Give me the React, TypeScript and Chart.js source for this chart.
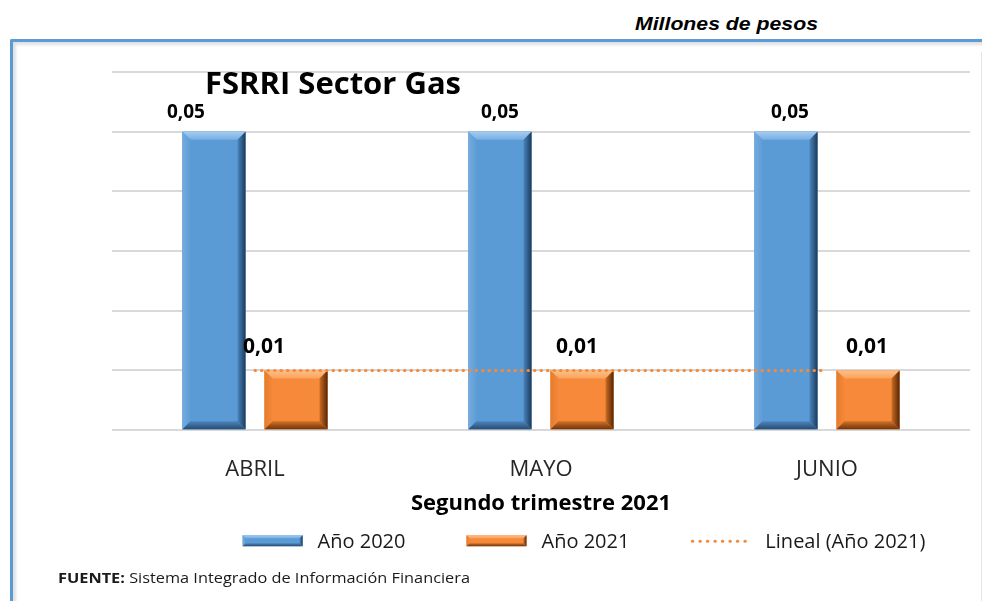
import React, { useEffect, useRef } from "react";
import { Chart, registerables } from "chart.js";

Chart.register(...registerables);

// ---- data ----
const categories = ["ABRIL", "MAYO", "JUNIO"];
const values2020 = [0.05, 0.05, 0.05];
const values2021 = [0.01, 0.01, 0.01];
const trend2021 = [0.01, 0.01, 0.01];
const seriesNames = ["Año 2020", "Año 2021", "Lineal (Año 2021)"];
const yMin = 0;
const yMax = 0.06;
const yStep = 0.01;
const chartTitle = "FSRRI Sector Gas";
const xTitle = "Segundo trimestre 2021";
const unitsText = "Millones de pesos";
const sourceLabel = "FUENTE:";
const sourceText = " Sistema Integrado de Información Financiera";

const FONT = "'Open Sans', 'Noto Sans', sans-serif";

const palettes: any = {
  blue: {
    main: "#5B9BD5",
    top: ["#A3CCF2", "#78AEE2"],
    left: ["#75ABDE", "#5E9DD6"],
    right: ["#1C3A58", "#4A86C0"],
    bottom: ["#284C70", "#4C86BE"],
  },
  orange: {
    main: "#F68A3A",
    top: ["#FDC088", "#F9A25C"],
    left: ["#E47D2E", "#F48839"],
    right: ["#552707", "#CC6C22"],
    bottom: ["#6E350E", "#D47226"],
  },
};

function fmt(v: number) {
  return v.toFixed(2).replace(".", ",");
}

function drawBevelRect(ctx: CanvasRenderingContext2D, l: number, t: number, r: number, b: number, s: number, p: any) {
  ctx.save();
  ctx.fillStyle = p.main;
  ctx.fillRect(l, t, r - l, b - t);
  const face = (pts: number[][], g0: number[], g1: number[], cols: string[]) => {
    const g = ctx.createLinearGradient(g0[0], g0[1], g1[0], g1[1]);
    g.addColorStop(0, cols[0]);
    g.addColorStop(1, cols[1]);
    ctx.beginPath();
    ctx.moveTo(pts[0][0], pts[0][1]);
    for (let i = 1; i < pts.length; i++) ctx.lineTo(pts[i][0], pts[i][1]);
    ctx.closePath();
    ctx.fillStyle = g;
    ctx.fill();
  };
  face([[l, t], [r, t], [r - s, t + s], [l + s, t + s]], [0, t], [0, t + s], p.top);
  face([[l, t], [l + s, t + s], [l + s, b - s], [l, b]], [l, 0], [l + s, 0], p.left);
  face([[r, t], [r, b], [r - s, b - s], [r - s, t + s]], [r, 0], [r - s, 0], p.right);
  face([[l, b], [l + s, b - s], [r - s, b - s], [r, b]], [0, b], [0, b - s], p.bottom);
  ctx.restore();
}

const bevelPlugin = {
  id: "bevelBars",
  afterDatasetDraw(chart: any, args: any) {
    const ds = chart.data.datasets[args.index];
    if (!ds.bevel) return;
    const ctx = chart.ctx;
    const p = palettes[ds.bevel];
    args.meta.data.forEach((bar: any) => {
      const { x, y, base, width } = bar.getProps(["x", "y", "base", "width"], true);
      const l = x - width / 2;
      const r = x + width / 2;
      const s = Math.min(8, width / 4, (base - y) / 3);
      drawBevelRect(ctx, l, y, r, base, s, p);
    });
  },
};

const labelPlugin = {
  id: "valueLabels",
  afterDatasetsDraw(chart: any, _a: any, opts: any) {
    const ctx = chart.ctx;
    ctx.save();
    ctx.textAlign = "center";
    ctx.textBaseline = "alphabetic";
    ctx.fillStyle = "#000";
    chart.data.datasets.forEach((ds: any, di: number) => {
      if (!ds.bevel) return;
      const meta = chart.getDatasetMeta(di);
      const cfg = opts.sets[di];
      ctx.font = `bold ${cfg.size}px ${FONT}`;
      meta.data.forEach((bar: any, i: number) => {
        const v = ds.data[i];
        ctx.fillText(fmt(v), bar.x + cfg.nudge[i], bar.y - cfg.gap);
      });
    });
    // chart title
    const ca = chart.chartArea;
    ctx.textAlign = "left";
    ctx.font = `bold 31px ${FONT}`;
    ctx.fillText(chartTitle, ca.left + 93, ca.top + 22);
    ctx.restore();
  },
};

const legendPlugin = {
  id: "customLegend",
  afterDraw(chart: any) {
    const ctx = chart.ctx;
    const ca = chart.chartArea;
    ctx.save();
    ctx.font = `20px ${FONT}`;
    ctx.textBaseline = "middle";
    ctx.textAlign = "left";
    const iconW = 60;
    const textGap = 15;
    const itemGap = 61;
    const ds = chart.data.datasets;
    const widths = ds.map((d: any) => iconW + textGap + ctx.measureText(d.label).width);
    const total = widths.reduce((a: number, b: number) => a + b, 0) + itemGap * (ds.length - 1);
    const cx = (ca.left + ca.right) / 2 + 43;
    const y = ca.bottom + 111;
    let x = cx - total / 2;
    ds.forEach((d: any, i: number) => {
      if (d.bevel) {
        drawBevelRect(ctx, x, y - 6, x + iconW, y + 5, 3, palettes[d.bevel]);
      } else {
        ctx.save();
        ctx.strokeStyle = d.borderColor;
        ctx.lineWidth = 3;
        ctx.lineCap = "round";
        ctx.setLineDash([0.5, 7]);
        ctx.beginPath();
        ctx.moveTo(x + 2, y);
        ctx.lineTo(x + iconW, y);
        ctx.stroke();
        ctx.restore();
      }
      ctx.fillStyle = "#1a1a1a";
      ctx.fillText(d.label, x + iconW + textGap, y + 1);
      x += widths[i] + itemGap;
    });
    ctx.restore();
  },
};

export default function App() {
  const ref = useRef<HTMLCanvasElement>(null);

  useEffect(() => {
    if (!ref.current) return;
    const chart = new Chart(ref.current, {
      type: "bar",
      data: {
        labels: categories,
        datasets: [
          {
            label: seriesNames[0],
            data: values2020,
            backgroundColor: palettes.blue.main,
            bevel: "blue",
            categoryPercentage: 0.574,
            barPercentage: 0.768,
            order: 1,
          } as any,
          {
            label: seriesNames[1],
            data: values2021,
            backgroundColor: palettes.orange.main,
            bevel: "orange",
            categoryPercentage: 0.574,
            barPercentage: 0.768,
            order: 1,
          } as any,
          {
            type: "line",
            label: seriesNames[2],
            data: trend2021,
            borderColor: "#F68A3A",
            backgroundColor: "#F68A3A",
            borderWidth: 3,
            borderDash: [0.5, 6],
            borderCapStyle: "round",
            pointRadius: 0,
            order: 0,
          } as any,
        ],
      },
      options: {
        animation: false,
        responsive: false,
        maintainAspectRatio: false,
        layout: { padding: { left: 112, right: 12, top: 72, bottom: 84 } },
        plugins: {
          legend: { display: false },
          tooltip: { enabled: false },
          title: { display: false },
          valueLabels: {
            sets: {
              0: { size: 19, gap: 14, nudge: [-28, 0, 4] },
              1: { size: 21, gap: 18, nudge: [-32, -5, -1] },
            },
          },
        } as any,
        scales: {
          x: {
            grid: { display: false, drawTicks: false },
            border: { display: false },
            ticks: {
              color: "#262626",
              padding: 26,
              font: { family: FONT, size: 22 },
            },
            title: {
              display: true,
              text: xTitle,
              color: "#000",
              font: { family: FONT, size: 22, weight: "bold" },
              padding: { top: -18, bottom: 0 },
            },
          },
          y: {
            min: yMin,
            max: yMax,
            grid: { color: "#D9D9D9", lineWidth: 2, drawTicks: false },
            border: { display: false },
            ticks: { display: false, stepSize: yStep },
            afterFit: (s: any) => {
              s.width = 0;
            },
          },
        },
      },
      plugins: [bevelPlugin, labelPlugin, legendPlugin],
    });
    return () => chart.destroy();
  }, []);

  return (
    <div style={{ position: "fixed", left: 0, top: 0, width: 982, height: 601, overflow: "hidden", background: "#fff" }}>
      <div
        style={{
          position: "absolute",
          left: 635,
          top: 14,
          fontFamily: "'Liberation Sans', Arial, sans-serif",
          fontWeight: "bold",
          fontStyle: "italic",
          fontSize: 18,
          lineHeight: "20px",
          color: "#000",
          whiteSpace: "nowrap",
          transform: "scaleX(1.18)",
          transformOrigin: "left center",
        }}
      >
        {unitsText}
      </div>
      <div
        style={{
          position: "absolute",
          left: 10,
          top: 39,
          width: 990,
          height: 620,
          borderTop: "3px solid #5B9BD5",
          borderLeft: "3px solid #5B9BD5",
          boxShadow: "inset 3px 3px 3px rgba(0,0,0,0.12)",
          borderRadius: "2px 0 0 0",
        }}
      />
      <div style={{ position: "absolute", left: 981, top: 52, width: 1, height: 560, background: "#e4e4e4" }} />
      <canvas ref={ref} width={982} height={601} style={{ position: "absolute", left: 0, top: 0 }} />
      <div
        style={{
          position: "absolute",
          left: 58,
          top: 569,
          fontFamily: FONT,
          fontSize: 14,
          lineHeight: "18px",
          color: "#1a1a1a",
          whiteSpace: "nowrap",
          transform: "scaleX(1.165)",
          transformOrigin: "left center",
        }}
      >
        <span style={{ fontWeight: "bold" }}>{sourceLabel}</span>
        {sourceText}
      </div>
    </div>
  );
}
